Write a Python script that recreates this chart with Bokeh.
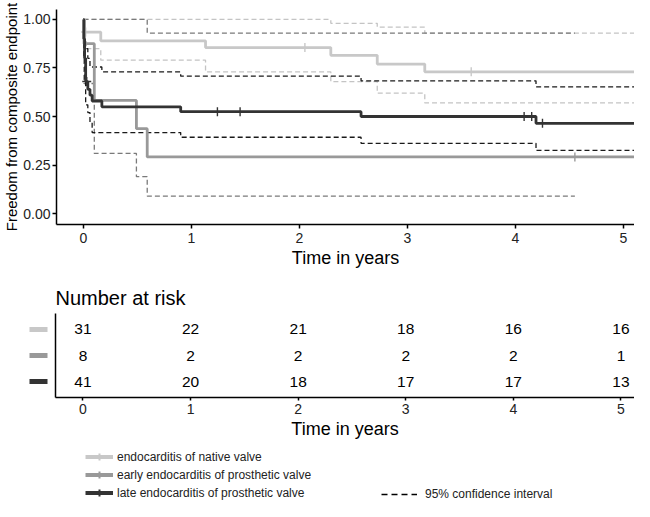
import numpy as np
from bokeh.plotting import figure
from bokeh.layouts import column, row
from bokeh.models import (Range1d, FixedTicker, NumeralTickFormatter, Legend, LegendItem)
from bokeh.core.properties import value
from bokeh.embed import file_html
from bokeh.resources import INLINE

FONT = "Liberation Sans"

# ---------------- data ----------------
groups = ["endocarditis of native valve",
          "early endocarditis of prosthetic valve",
          "late endocarditis of prosthetic valve"]
colors = ["#c8c8c8", "#999999", "#333333"]
ci_colors = ["#c4c4c4", "#7a7a7a", "#1a1a1a"]

# Kaplan-Meier estimates (step "after")
native_t = [0, 0.01, 0.16, 1.13, 2.29, 2.72, 3.16, 5.4]
native_s = [1.0, 0.935, 0.89, 0.855, 0.815, 0.77, 0.73, 0.73]
native_lo = [1.0, 0.85, 0.79, 0.73, 0.68, 0.62, 0.57, 0.57]
native_hi = [1.0, 1.0, 1.0, 1.0, 0.98, 0.96, 0.93, 0.93]
native_cens = [0.02, 2.05, 3.59]

early_t = [0, 0.005, 0.1, 0.49, 0.59, 5.4]
early_s = [1.0, 0.875, 0.583, 0.4375, 0.292, 0.292]
early_ci_t = [0, 0.005, 0.1, 0.49, 0.59, 4.55]
early_lo = [1.0, 0.67, 0.31, 0.19, 0.09, 0.09]
early_hi = [1.0, 1.0, 1.0, 1.0, 0.93, 0.93]
early_cens = [4.55]

late_t = [0, 0.003, 0.01, 0.02, 0.04, 0.06, 0.08, 0.17, 0.9, 2.57, 4.19, 5.4]
late_s = [1.0, 0.9, 0.8, 0.68, 0.64, 0.61, 0.58, 0.55, 0.525, 0.5, 0.465, 0.465]
late_lo = [1.0, 0.8, 0.68, 0.56, 0.52, 0.47, 0.417, 0.417, 0.393, 0.362, 0.325, 0.325]
late_hi = [1.0, 0.97, 0.9, 0.85, 0.8, 0.755, 0.755, 0.73, 0.708, 0.684, 0.653, 0.653]
late_cens = [0.03, 1.24, 1.45, 4.08, 4.15, 4.25, 5.23]

# number at risk
risk_times = [0, 1, 2, 3, 4, 5]
risk_native = [31, 22, 21, 18, 16, 16]
risk_early = [8, 2, 2, 2, 2, 1]
risk_late = [41, 20, 18, 17, 17, 13]
risk_rows = [3, 2, 1]

x_ticks = [0, 1, 2, 3, 4, 5]
y_ticks = [0, 0.25, 0.5, 0.75, 1.0]


def step_value(ts, ss, t):
    i = np.searchsorted(np.asarray(ts), t, side="right") - 1
    return ss[i]


def bare(fig):
    fig.xgrid.visible = False
    fig.ygrid.visible = False
    fig.outline_line_color = None


def style_axes(fig, label_size="14px"):
    for ax in list(fig.xaxis) + list(fig.yaxis):
        ax.axis_line_color = "black"
        ax.axis_line_width = 1.5
        ax.major_tick_line_color = "black"
        ax.major_tick_line_width = 1.5
        ax.major_tick_in = 0
        ax.major_tick_out = 4
        ax.minor_tick_line_color = None
        ax.major_label_text_font = FONT
        ax.major_label_text_font_size = label_size
        ax.major_label_text_color = "#222222"
        ax.axis_label_text_font = FONT
        ax.axis_label_text_font_style = "normal"
        ax.axis_label_text_color = "black"


# ---------------- survival plot ----------------
p = figure(width=634, height=270, x_range=Range1d(-0.25, 5.102),
           y_range=Range1d(-0.0564, 1.0513), output_backend="svg",
           toolbar_location=None, min_border_left=56, min_border_right=0,
           min_border_top=9, min_border_bottom=45)
bare(p)
style_axes(p)
p.xaxis.ticker = FixedTicker(ticks=x_ticks)
p.yaxis.ticker = FixedTicker(ticks=y_ticks)
p.yaxis.formatter = NumeralTickFormatter(format="0.00")
p.yaxis.major_label_text_font_size = "14px"
p.xaxis.axis_label = "Time in years"
p.xaxis.axis_label_text_font_size = "18px"
p.xaxis.major_label_standoff = 4
p.xaxis.axis_label_standoff = 2
p.yaxis.axis_label = "Freedom from composite endpoint"
p.yaxis.axis_label_text_font_size = "15px"
p.yaxis.major_label_standoff = 2
p.yaxis.axis_label_standoff = 0

dash = "5 3"
# confidence intervals
p.step(native_t, native_lo, mode="after", line_color=ci_colors[0], line_width=1.3, line_dash=dash)
p.step(native_t, native_hi, mode="after", line_color=ci_colors[0], line_width=1.3, line_dash=dash)
p.step(early_ci_t, early_lo, mode="after", line_color=ci_colors[1], line_width=1.3, line_dash=dash)
p.step(early_ci_t, early_hi, mode="after", line_color=ci_colors[1], line_width=1.3, line_dash=dash)
p.step(late_t, late_lo, mode="after", line_color=ci_colors[2], line_width=1.3, line_dash=dash)
p.step(late_t, late_hi, mode="after", line_color=ci_colors[2], line_width=1.3, line_dash=dash)

# survival curves + censor marks
curves = [(native_t, native_s, native_cens), (early_t, early_s, early_cens), (late_t, late_s, late_cens)]
for (ts, ss, cens), c in zip(curves, colors):
    p.step(ts, ss, mode="after", line_color=c, line_width=2.8)
    p.scatter(cens, [step_value(ts, ss, t) for t in cens], marker="cross",
              size=9, line_width=1.4, line_color=c)

# ---------------- risk table ----------------
r = figure(width=581, height=173, x_range=Range1d(-0.255, 5.126),
           y_range=Range1d(0.385, 3.615), output_backend="svg",
           toolbar_location=None, min_border_left=2, min_border_right=0,
           min_border_top=43, min_border_bottom=46, title="Number at risk")
bare(r)
r.title.text_font = FONT
r.title.text_font_size = "20px"
r.title.text_font_style = "normal"
r.title.text_color = "black"
r.title.align = "left"
r.title.standoff = 9
style_axes(r)
r.xaxis.ticker = FixedTicker(ticks=x_ticks)
r.xaxis.major_tick_out = 3
r.xaxis.major_label_standoff = 3
r.xaxis.axis_label = "Time in years"
r.xaxis.axis_label_text_font_size = "18px"
r.xaxis.axis_label_standoff = 2
r.yaxis.ticker = FixedTicker(ticks=[])
r.yaxis.major_tick_out = 0
r.yaxis.major_label_standoff = 0
r.yaxis.major_label_text_font_size = "0px"

for counts, yrow in zip([risk_native, risk_early, risk_late], risk_rows):
    r.text(x=risk_times, y=[yrow] * len(risk_times), text=[str(v) for v in counts],
           text_align="center", text_baseline="middle", text_color="black",
           text_font=value(FONT), text_font_size="15.5px")

# colour keys of the risk table
s = figure(width=53, height=173, x_range=Range1d(0, 53), y_range=r.y_range,
           output_backend="svg", toolbar_location=None,
           x_axis_location=None, y_axis_location=None,
           min_border_left=0, min_border_right=0, min_border_top=43, min_border_bottom=46)
bare(s)
key_x = 38
s.rect(x=[key_x] * 3, y=risk_rows, width=18, height=5, width_units="screen",
       height_units="screen", fill_color=colors, line_color=None)

# ---------------- legend ----------------
l = figure(width=634, height=58, x_range=Range1d(0, 1), y_range=Range1d(0, 1),
           output_backend="svg", toolbar_location=None,
           x_axis_location=None, y_axis_location=None,
           min_border_left=0, min_border_right=0, min_border_top=0, min_border_bottom=0)
bare(l)
nan = [float("nan")]
items = []
for g, c in zip(groups, colors):
    lr = l.line(x=nan * 2, y=nan * 2, line_color=c, line_width=4)
    sr = l.scatter(x=nan, y=nan, marker="cross", size=12, line_color=c, line_width=2)
    items.append(LegendItem(label=g, renderers=[lr, sr]))
leg = Legend(items=items, location=(85, 0), orientation="vertical",
             glyph_width=28, glyph_height=17, label_height=17, spacing=1,
             padding=0, margin=0, label_standoff=4,
             border_line_alpha=0, background_fill_alpha=0,
             label_text_font=FONT, label_text_font_size="12px", label_text_color="#222222")
l.add_layout(leg)

cir = l.line(x=nan * 2, y=nan * 2, line_color="black", line_width=1.3, line_dash="6 4")
leg2 = Legend(items=[LegendItem(label="95% confidence interval", renderers=[cir])],
              location=(381, 0), glyph_width=36, glyph_height=10, label_height=10,
              padding=0, margin=0, label_standoff=8,
              border_line_alpha=0, background_fill_alpha=0,
              label_text_font=FONT, label_text_font_size="12px", label_text_color="#222222")
l.add_layout(leg2)

layout = column(p, row(s, r), row(l))
open("out.html", "w").write(file_html(layout, INLINE))
